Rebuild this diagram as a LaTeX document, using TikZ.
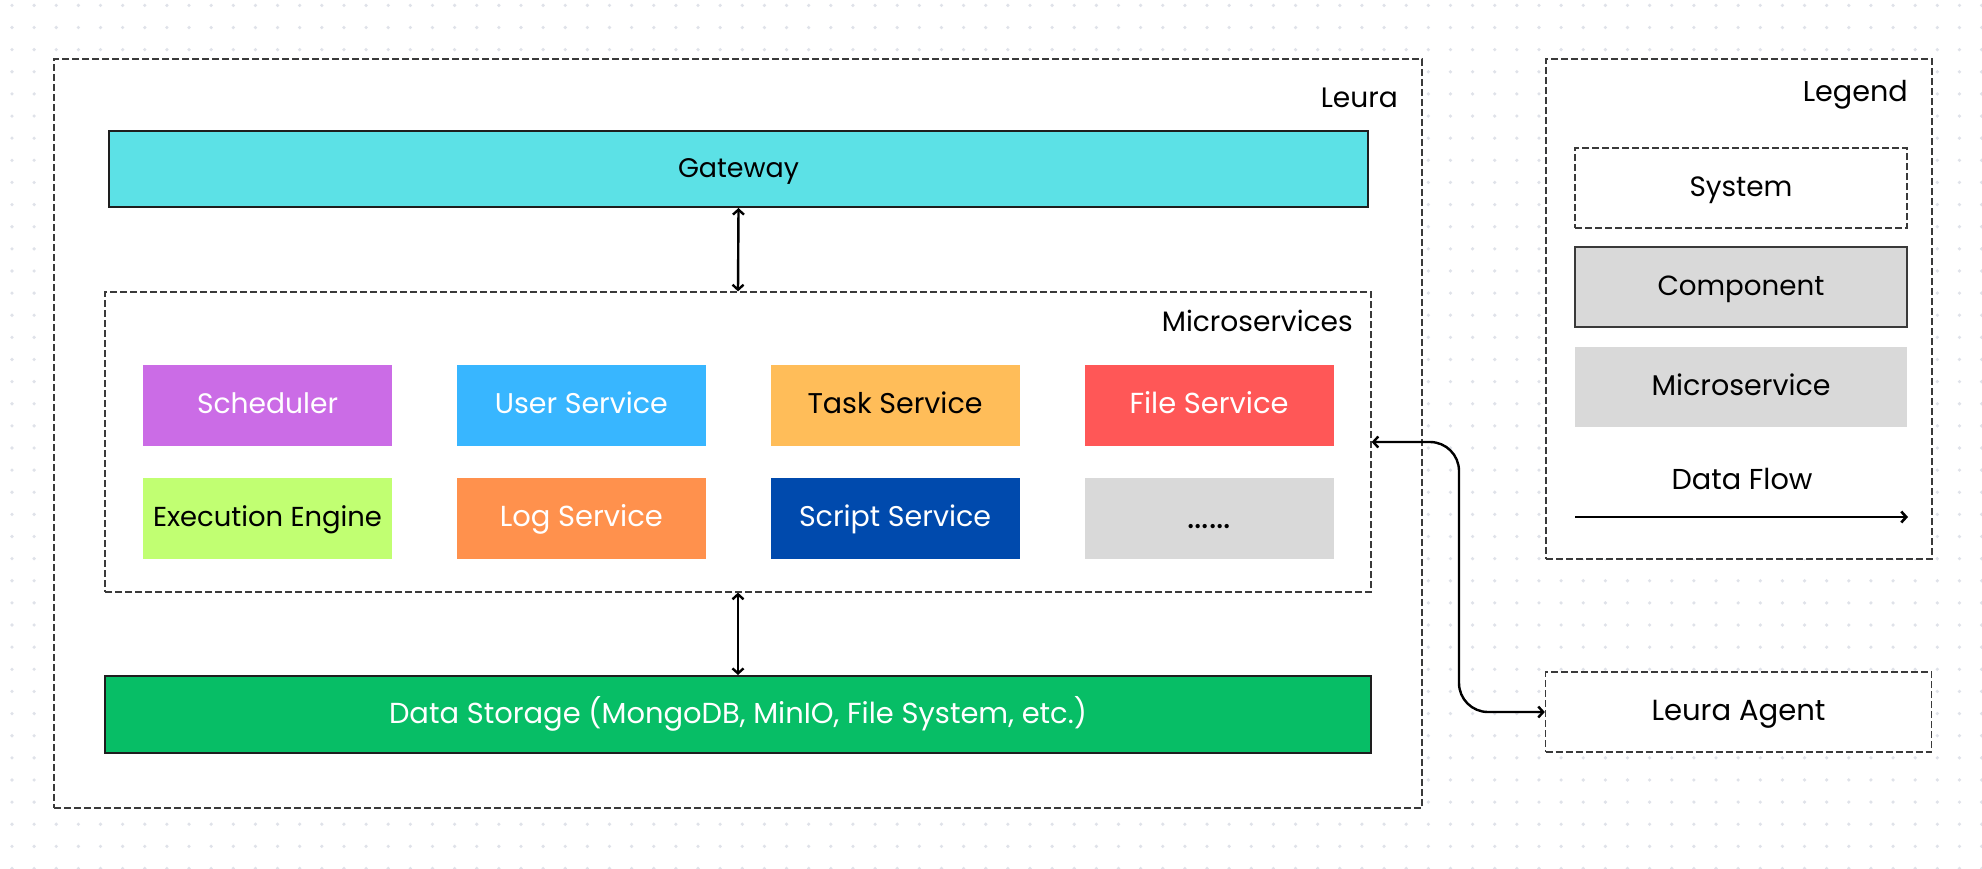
\documentclass[tikz,border=0pt]{standalone}
\usepackage{fontspec}
\setmainfont{Poppins}
\usetikzlibrary{arrows.meta}
\definecolor{dotc}{HTML}{DFE2E9}
\definecolor{gwc}{HTML}{5CE1E6}
\definecolor{schc}{HTML}{CB6CE6}
\definecolor{usrc}{HTML}{38B6FF}
\definecolor{tskc}{HTML}{FFBD59}
\definecolor{filc}{HTML}{FF5757}
\definecolor{exec}{HTML}{C1FF72}
\definecolor{logc}{HTML}{FF914D}
\definecolor{scrc}{HTML}{004AAD}
\definecolor{grayc}{HTML}{D9D9D9}
\definecolor{dsc}{HTML}{07BE66}
\definecolor{dashc}{HTML}{3A3A3A}
\definecolor{bordc}{HTML}{1E1E1E}
\newcommand\fitlabel[2]{\setbox0=\hbox{\fontsize{10pt}{12pt}\selectfont #1}%
  \pgfmathsetmacro\fsz{10*#2/\wd0}\fontsize{\fsz pt}{\fsz pt}\selectfont\rule[-0.2em]{0pt}{1em}\smash{#1}}
\begin{document}
\begin{tikzpicture}[x=1pt,y=-1pt,
  sysbox/.style={draw=dashc, line width=1.3pt, dash pattern=on 7pt off 3pt, fill=white, inner sep=0pt},
  compbox/.style={draw=bordc, line width=2pt, inner sep=0pt},
  svcbox/.style={inner sep=0pt, minimum width=249pt, minimum height=81pt},
  flow/.style={line width=2.4pt, {Straight Barb[length=5pt,width=11pt]}-{Straight Barb[length=5pt,width=11pt]}},
  lbl/.style={inner sep=0pt, text=black}
]
\useasboundingbox (0,0) rectangle (1982,868);
\fill[white] (0,0) rectangle (1982,868);
% dotted background
\foreach \i in {0,...,89}{
  \foreach \j in {0,...,39}{
    \fill[dotc] ({12+\i*22.13},{5.4+\j*22.13}) circle (1.8);
  }
}
% Leura system
\node[sysbox, minimum width=1368pt, minimum height=749pt] (leura) at (738,433.5) {};
\node[lbl, anchor=east] (leuralbl) at (1398,99) {\fitlabel{Leura}{77}};
% Gateway
\node[compbox, fill=gwc, minimum width=1259pt, minimum height=76pt] (gw) at (738.5,169) {\fitlabel{Gateway}{121}};
% Microservices
\node[sysbox, minimum width=1266pt, minimum height=300pt] (ms) at (738,442) {};
\node[lbl, anchor=east] (mslbl) at (1353,323) {\fitlabel{Microservices}{191}};
% services
\node[svcbox, fill=schc, text=white] (sch) at (267.5,405) {\fitlabel{Scheduler}{141}};
\node[svcbox, fill=usrc, text=white] (usr) at (581.3,405) {\fitlabel{User Service}{173}};
\node[svcbox, fill=tskc, text=black] (tsk) at (895,405) {\fitlabel{Task Service}{175}};
\node[svcbox, fill=filc, text=white] (fil) at (1209,405) {\fitlabel{File Service}{159}};
\node[svcbox, fill=exec, text=black] (exe) at (267.5,518) {\fitlabel{Execution Engine}{229}};
\node[svcbox, fill=logc, text=white] (log) at (581.3,518) {\fitlabel{Log Service}{163}};
\node[svcbox, fill=scrc, text=white] (scr) at (895,518) {\fitlabel{Script Service}{192}};
\node[svcbox, fill=grayc, text=black] (more) at (1209,518) {\fitlabel{......}{44}};
% Data storage
\node[compbox, fill=dsc, text=white, minimum width=1266pt, minimum height=77pt] (ds) at (738,714.5) {\fitlabel{Data Storage (MongoDB, MinIO, File System, etc.)}{698}};
% Leura Agent
\node[sysbox, minimum width=386pt, minimum height=80pt] (agent) at (1738.5,712) {\fitlabel{Leura Agent}{174}};
% Legend
\node[sysbox, minimum width=386pt, minimum height=500pt] (legend) at (1739,309) {};
\node[lbl, anchor=east] (legendlbl) at (1908,93) {\fitlabel{Legend}{105}};
\node[sysbox, minimum width=332pt, minimum height=80pt] (lsys) at (1741,188) {\fitlabel{System}{103}};
\node[compbox, draw=dashc, fill=grayc, minimum width=332pt, minimum height=80pt] (lcomp) at (1741,287) {\fitlabel{Component}{167}};
\node[inner sep=0pt, fill=grayc, minimum width=332pt, minimum height=80pt] (lms) at (1741,387) {\fitlabel{Microservice}{179}};
\node[lbl] (lflow) at (1742,481) {\fitlabel{Data Flow}{141}};
\coordinate (lfa) at (1575,517);
\coordinate (lfb) at (1908,517);
% connectors
\coordinate (bend) at (1459,0);
\draw[flow] (gw.south) -- (ms.north);
\draw[flow] (ms.south) -- (ds.north);
\draw[flow, rounded corners=29pt] (ms.east) -- (ms.east -| bend) -- (agent.west -| bend) -- (agent.west);
\draw[line width=2.6pt, -{Straight Barb[length=5pt,width=11pt]}] (lfa) -- (lfb);
\end{tikzpicture}
\end{document}
